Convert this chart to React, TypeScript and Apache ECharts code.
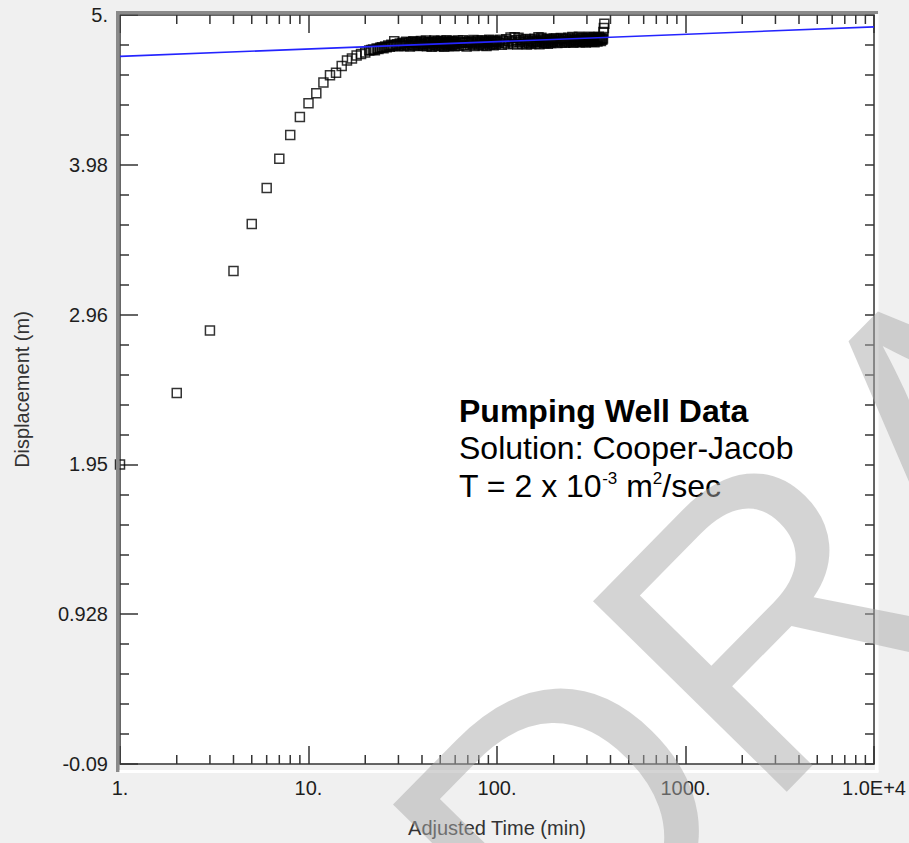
import React, { useEffect, useRef } from 'react';
import * as echarts from 'echarts';

const FONT = '"Liberation Sans", Arial, sans-serif';

// Early-time drawdown (minutes, metres)
const earlyTime = [1, 2, 3, 4, 5, 6, 7, 8, 9, 10, 11, 12, 13, 14, 15, 16, 17, 18, 19, 20];
const earlyDisp = [1.946, 2.431, 2.856, 3.261, 3.580, 3.825, 4.023, 4.184, 4.306, 4.400,
  4.468, 4.542, 4.591, 4.607, 4.654, 4.690, 4.704, 4.724, 4.735, 4.746];

// Dense late-time readings
const timeA = [21, 21.5, 22, 22.5, 23, 23.5, 24, 24.5, 25, 25.5, 26, 26.5, 27, 27.5, 28, 28.5, 29, 29.5, 30, 30.5,
  31, 31.5, 32, 32.5, 33, 33.5, 34, 34.5, 35, 35.5, 36, 36.5, 37, 37.5, 38, 38.5, 39, 39.5, 40];
const dispA = [4.758, 4.762, 4.766, 4.760, 4.772, 4.769, 4.777, 4.781, 4.774, 4.786,
  4.780, 4.792, 4.785, 4.797, 4.789, 4.822, 4.794, 4.801, 4.788, 4.806,
  4.796, 4.812, 4.790, 4.803, 4.818, 4.795, 4.809, 4.786, 4.814, 4.800,
  4.821, 4.792, 4.807, 4.816, 4.789, 4.811, 4.798, 4.823, 4.803];

const timeB = [40.5, 41, 41.5, 42, 42.5, 43, 43.5, 44, 44.5, 45, 45.5, 46, 46.5, 47, 47.5, 48, 48.5, 49, 49.5, 50,
  50.5, 51, 51.5, 52, 52.5, 53, 53.5, 54, 54.5, 55, 55.5, 56, 56.5, 57, 57.5, 58, 58.5, 59, 59.5, 60];
const dispB = [4.791, 4.815, 4.802, 4.826, 4.788, 4.809, 4.819, 4.795, 4.812, 4.784,
  4.817, 4.804, 4.827, 4.793, 4.810, 4.798, 4.822, 4.787, 4.814, 4.806,
  4.825, 4.792, 4.808, 4.818, 4.785, 4.811, 4.801, 4.828, 4.796, 4.813,
  4.789, 4.820, 4.805, 4.816, 4.794, 4.824, 4.799, 4.810, 4.787, 4.819];

const timeC = [61, 62, 63, 64, 65, 66, 67, 68, 69, 70, 71, 72, 73, 74, 75, 76, 77, 78, 79, 80,
  81, 82, 83, 84, 85, 86, 87, 88, 89, 90, 91, 92, 93, 94, 95, 96, 97, 98, 99, 100];
const dispC = [4.803, 4.826, 4.791, 4.814, 4.808, 4.829, 4.795, 4.817, 4.786, 4.812,
  4.822, 4.798, 4.815, 4.805, 4.830, 4.790, 4.819, 4.809, 4.825, 4.796,
  4.813, 4.802, 4.828, 4.793, 4.818, 4.807, 4.824, 4.789, 4.816, 4.811,
  4.831, 4.797, 4.820, 4.804, 4.827, 4.794, 4.815, 4.823, 4.801, 4.818];

const timeD = [102, 104, 106, 108, 110, 112, 114, 116, 118, 120, 122, 124, 126, 128, 130, 132, 134, 136, 138, 140,
  142, 144, 146, 148, 150, 152, 154, 156, 158, 160, 162, 164, 166, 168, 170, 172, 174, 176, 178, 180,
  182, 184, 186, 188, 190, 192, 194, 196, 198, 200];
const dispD = [4.809, 4.832, 4.798, 4.821, 4.812, 4.835, 4.802, 4.825, 4.847, 4.816,
  4.806, 4.848, 4.828, 4.799, 4.846, 4.819, 4.834, 4.805, 4.826, 4.813,
  4.837, 4.800, 4.822, 4.811, 4.833, 4.803, 4.827, 4.817, 4.838, 4.807,
  4.824, 4.814, 4.849, 4.801, 4.829, 4.846, 4.818, 4.836, 4.808, 4.823,
  4.812, 4.839, 4.804, 4.830, 4.816, 4.834, 4.809, 4.826, 4.820, 4.841];

const timeE = [203, 206, 209, 212, 215, 218, 221, 224, 227, 230, 233, 236, 239, 242, 245, 248, 251, 254, 257, 260,
  263, 266, 269, 272, 275, 278, 281, 284, 287, 290, 293, 296, 299, 302, 305, 308, 311, 314, 317, 320,
  323, 326, 329, 332, 335, 338, 341, 344, 347, 350, 353, 356, 359, 362, 365];
const dispE = [4.818, 4.840, 4.809, 4.831, 4.822, 4.843, 4.813, 4.835, 4.826, 4.811,
  4.838, 4.820, 4.845, 4.816, 4.832, 4.824, 4.850, 4.812, 4.836, 4.828,
  4.819, 4.842, 4.827, 4.852, 4.815, 4.834, 4.823, 4.846, 4.817, 4.839,
  4.829, 4.813, 4.844, 4.821, 4.837, 4.852, 4.825, 4.841, 4.818, 4.833,
  4.826, 4.848, 4.815, 4.839, 4.830, 4.845, 4.820, 4.836, 4.852, 4.828,
  4.842, 4.823, 4.838, 4.831, 4.840];

const endTime = [367, 369, 371];
const endDisp = [4.885, 4.912, 4.940];

// Cooper-Jacob straight-line fit
const fitTime = [1, 10000];
const fitDisp = [4.719, 4.919];

// Axes
const yTickLabels = ['-0.09', '0.928', '1.95', '2.96', '3.98', '5.'];
const yMin = -0.09;
const yMax = 5.0;
const xTickLabels = ['1.', '10.', '100.', '1000.', '1.0E+4'];
const xMinorTicks = [2, 3, 4, 5, 6, 7, 8, 9, 20, 30, 40, 50, 60, 70, 80, 90,
  200, 300, 400, 500, 600, 700, 800, 900, 2000, 3000, 4000, 5000, 6000, 7000, 8000, 9000];

export default function App() {
  const ref = useRef<HTMLDivElement>(null);
  useEffect(() => {
    const chart = echarts.init(ref.current!, null, { renderer: 'svg' });
    const times = [...earlyTime, ...timeA, ...timeB, ...timeC, ...timeD, ...timeE, ...endTime];
    const disps = [...earlyDisp, ...dispA, ...dispB, ...dispC, ...dispD, ...dispE, ...endDisp];
    const scatterData = times.map((t, i) => [t, disps[i]]);
    const fitData = fitTime.map((t, i) => [t, fitDisp[i]]);
    const tickColor = '#333';
    const labelColor = '#1e1e1e';

    const option: any = {
      animation: false,
      backgroundColor: '#f0f0f0',
      grid: { left: 120, top: 15, right: 35, bottom: 74, show: true, backgroundColor: '#ffffff', borderWidth: 0 },
      xAxis: [
        {
          type: 'log', logBase: 10, min: 1, max: 10000, position: 'bottom',
          axisLine: { show: true, onZero: false, lineStyle: { color: tickColor, width: 1.5 } },
          axisTick: { show: true, inside: true, length: 18, lineStyle: { color: tickColor, width: 1.5 } },
          splitLine: { show: false },
          axisLabel: {
            show: true, margin: 14, fontSize: 20, color: labelColor, fontFamily: FONT,
            showMinLabel: true, showMaxLabel: true,
            formatter: (v: number) => xTickLabels[Math.round(Math.log10(v))] ?? '',
          },
          name: 'Adjusted Time (min)', nameLocation: 'middle', nameGap: 54,
          nameTextStyle: { fontSize: 20, color: '#333', fontFamily: FONT },
        },
        {
          type: 'log', logBase: 10, min: 1, max: 10000, position: 'top',
          axisLine: { show: true, onZero: false, lineStyle: { color: tickColor, width: 1.5 } },
          axisTick: { show: true, inside: true, length: 18, lineStyle: { color: tickColor, width: 1.5 } },
          splitLine: { show: false },
          axisLabel: { show: false },
        },
      ],
      yAxis: [
        { type: 'value', min: yMin, max: yMax, show: false },
        {
          type: 'value', min: 0, max: 5, interval: 1, position: 'left',
          axisLine: { show: true, onZero: false, lineStyle: { color: tickColor, width: 1.5 } },
          axisTick: { show: true, inside: true, length: 18, lineStyle: { color: tickColor, width: 1.5 } },
          minorTick: { show: true, splitNumber: 5, length: 9, lineStyle: { color: tickColor, width: 1.5 } },
          splitLine: { show: false },
          axisLabel: {
            show: true, margin: 12, fontSize: 20, color: labelColor, fontFamily: FONT,
            showMinLabel: true, showMaxLabel: true,
            formatter: (v: number) => yTickLabels[Math.round(v)] ?? '',
          },
          name: 'Displacement (m)', nameLocation: 'middle', nameGap: 88,
          nameTextStyle: { fontSize: 20, color: '#333', fontFamily: FONT },
        },
        {
          type: 'value', min: 0, max: 5, interval: 1, position: 'right',
          axisLine: { show: true, onZero: false, lineStyle: { color: tickColor, width: 1.5 } },
          axisTick: { show: true, inside: true, length: 9, lineStyle: { color: tickColor, width: 1.5 } },
          minorTick: { show: true, splitNumber: 5, length: 9, lineStyle: { color: tickColor, width: 1.5 } },
          splitLine: { show: false },
          axisLabel: { show: false },
        },
      ],
      series: [
        {
          type: 'custom', xAxisIndex: 0, yAxisIndex: 0, silent: true,
          data: xMinorTicks.map((v) => [v, yMin]),
          encode: { x: 0, y: 1 },
          renderItem: (_p: any, api: any) => {
            const x = api.value(0);
            const b = api.coord([x, yMin]);
            const t = api.coord([x, yMax]);
            const ls = { stroke: tickColor, lineWidth: 1.5 };
            return {
              type: 'group',
              children: [
                { type: 'line', shape: { x1: b[0], y1: b[1], x2: b[0], y2: b[1] - 9 }, style: ls },
                { type: 'line', shape: { x1: t[0], y1: t[1], x2: t[0], y2: t[1] + 9 }, style: ls },
              ],
            };
          },
        },
        {
          type: 'scatter', xAxisIndex: 0, yAxisIndex: 0, silent: true,
          data: scatterData, symbol: 'rect', symbolSize: 9,
          itemStyle: { color: 'rgba(0,0,0,0)', borderColor: '#000', borderWidth: 1.5 },
          emphasis: { disabled: true },
        },
        {
          type: 'line', xAxisIndex: 0, yAxisIndex: 0, silent: true,
          data: fitData, showSymbol: false, symbol: 'none',
          lineStyle: { color: '#2424ff', width: 1.6 },
          emphasis: { disabled: true },
        },
      ],
      graphic: [
        { type: 'rect', z: 100, silent: true, shape: { x: 116, y: 11, width: 3.6, height: 761 }, style: { fill: '#8a8a8a' } },
        { type: 'rect', z: 100, silent: true, shape: { x: 116, y: 11, width: 762, height: 3.4 }, style: { fill: '#8a8a8a' } },
        { type: 'rect', z: 100, silent: true, shape: { x: 875, y: 14, width: 3.5, height: 758 }, style: { fill: '#ffffff' } },
        { type: 'rect', z: 100, silent: true, shape: { x: 119.6, y: 770, width: 758.9, height: 3 }, style: { fill: '#ffffff' } },
        {
          type: 'text', z: 150, silent: true, x: 459, y: 410.7,
          style: { text: 'Pumping Well Data', fontSize: 32, fontWeight: 'bold', fontFamily: FONT, fill: '#000', align: 'left', verticalAlign: 'middle' },
        },
        {
          type: 'text', z: 150, silent: true, x: 459, y: 448.4,
          style: { text: 'Solution: Cooper-Jacob', fontSize: 32, fontFamily: FONT, fill: '#000', align: 'left', verticalAlign: 'middle' },
        },
        {
          type: 'text', z: 150, silent: true, x: 459, y: 485.9,
          style: {
            text: '{n|T = 2 x 10}{s|-3}{n| m}{s|2}{n|/sec}',
            fontSize: 32, fontFamily: FONT, fill: '#000', align: 'left', verticalAlign: 'middle',
            rich: {
              n: { fontSize: 32, fontFamily: FONT, fill: '#000', color: '#000' },
              s: { fontSize: 17, fontFamily: FONT, fill: '#000', color: '#000', verticalAlign: 'top', lineHeight: 26 },
            },
          },
        },
        {
          type: 'group', x: 564, y: 1018, rotation: (45.5 * Math.PI) / 180, z: 200, silent: true,
          children: [
            {
              type: 'text', z: 200, x: 0, y: -0.3465 * 395, silent: true,
              style: { text: 'DRAFT', fontSize: 395, fontFamily: FONT, fill: 'rgba(170,170,170,0.5)', align: 'left', verticalAlign: 'middle' },
            },
          ],
        },
      ],
    };
    chart.setOption(option);
    return () => chart.dispose();
  }, []);
  return <div ref={ref} style={{ position: 'absolute', left: 0, top: 0, width: 909, height: 843 }} />;
}
